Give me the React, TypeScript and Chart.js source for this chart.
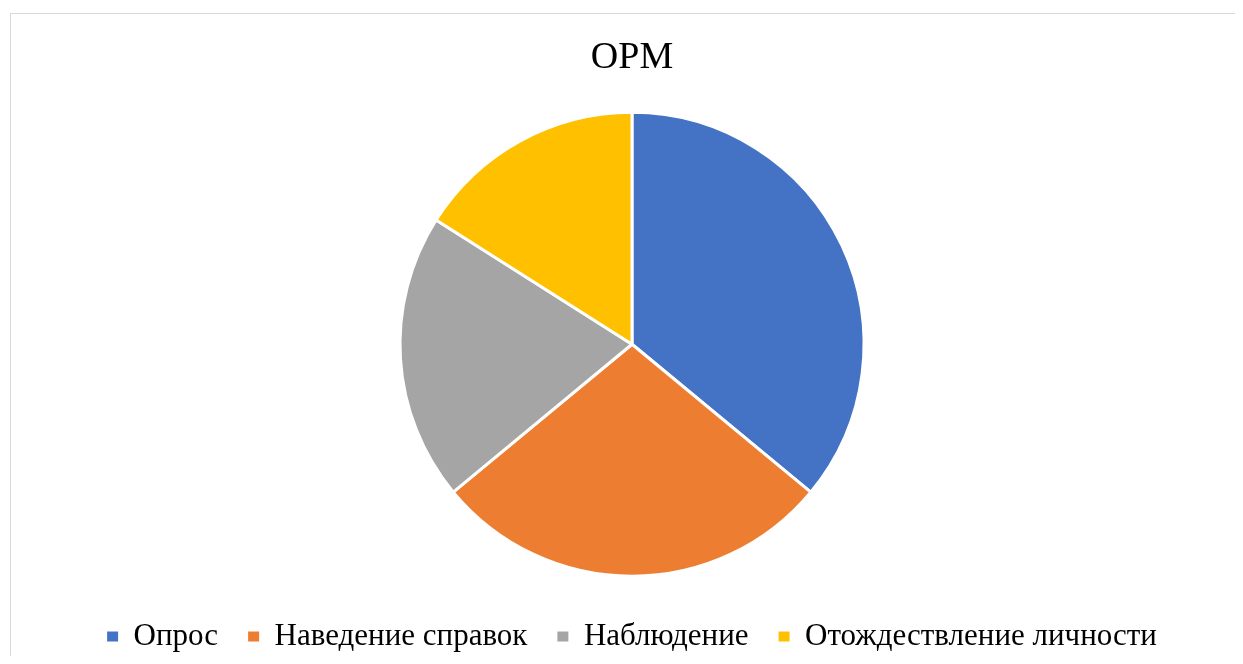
import React, { useEffect, useRef } from "react";
import { Chart, registerables } from "chart.js";

Chart.register(...registerables);

const chartTitle = "ОРМ";
const categories = ["Опрос", "Наведение справок", "Наблюдение", "Отождествление личности"];
const values = [36, 28, 20, 16];
const colors = ["#4472C4", "#ED7D31", "#A5A5A5", "#FFC000"];

export default function App() {
  const ref = useRef<HTMLCanvasElement | null>(null);

  useEffect(() => {
    document.body.style.overflow = "hidden";
    const canvas = ref.current;
    if (!canvas) return;
    const chart = new Chart(canvas, {
      type: "pie",
      data: {
        labels: categories,
        datasets: [
          {
            data: values,
            backgroundColor: colors,
            borderColor: "#ffffff",
            borderWidth: 3,
            radius: 232,
          } as any,
        ],
      },
      options: {
        responsive: false,
        animation: false,
        devicePixelRatio: 1,
        layout: { padding: 0 },
        plugins: {
          title: {
            display: true,
            text: chartTitle,
            color: "#000000",
            font: { family: "'Liberation Serif', 'Times New Roman', serif", size: 38, weight: "normal" },
            padding: { top: 21.7, bottom: 16.2 },
          },
          legend: {
            display: true,
            position: "bottom",
            labels: {
              color: "#000000",
              font: { family: "'Liberation Serif', 'Times New Roman', serif", size: 31 },
              boxWidth: 11,
              boxHeight: 10,
              padding: 30,
              generateLabels: (c: any) => {
                const items = Chart.overrides.pie.plugins.legend.labels.generateLabels(c);
                return items.map((it: any) => ({ ...it, lineWidth: 0, strokeStyle: "rgba(0,0,0,0)" }));
              },
            },
          },
          tooltip: { enabled: false },
        },
      },
    });
    return () => chart.destroy();
  }, []);

  return (
    <div style={{ position: "relative", width: 1227, height: 648, overflow: "hidden" }}>
      <div
        style={{
          position: "absolute",
          left: 2,
          top: 5,
          width: 1400,
          height: 800,
          border: "1px solid #d9d9d9",
          boxSizing: "border-box",
        }}
      />
      <canvas
        ref={ref}
        width={1242}
        height={648}
        style={{ position: "absolute", left: 3, top: 6, width: 1242, height: 648 }}
      />
    </div>
  );
}
